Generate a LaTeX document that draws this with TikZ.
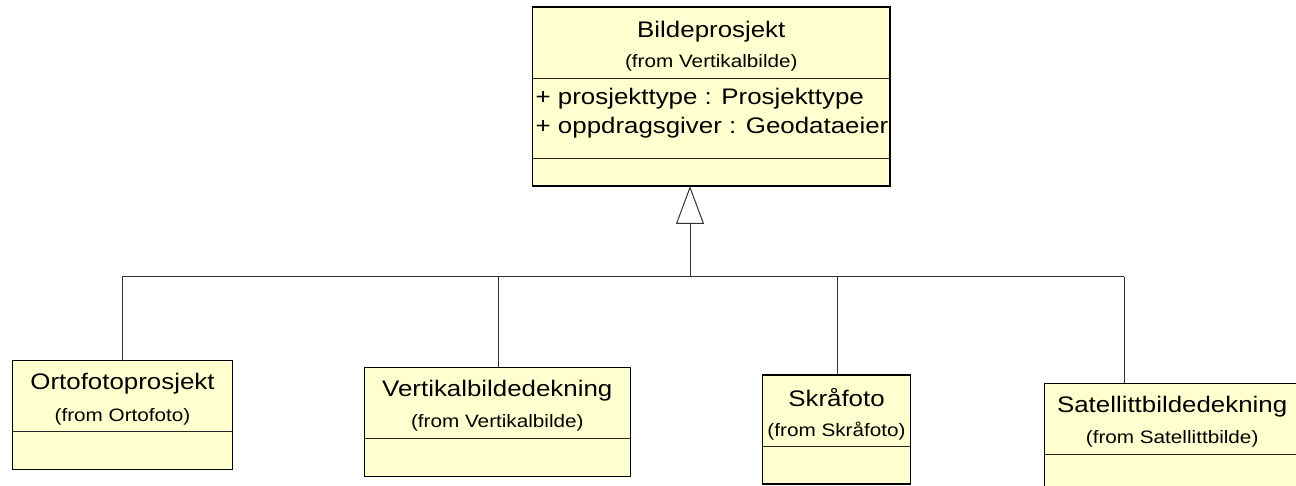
\documentclass[tikz,border=0pt]{standalone}
\usepackage{fontspec}
\setmainfont{Liberation Sans}[FakeStretch=1.15]
\usetikzlibrary{arrows.meta}

\definecolor{classfill}{RGB}{255,255,208}

\tikzset{
  classbox/.style={draw=black, line width=1.2pt, fill=classfill, rectangle,
    inner sep=0pt, outer sep=0pt, anchor=north west},
  classline/.style={draw=black!85, line width=1pt},
  nametext/.style={inner sep=0pt, font=\fontsize{22.5}{27}\selectfont},
  fromtext/.style={inner sep=0pt, font=\fontsize{18}{21}\selectfont},
  attrtext/.style={inner sep=0pt, anchor=west, font=\fontsize{22.5}{27}\selectfont},
  link/.style={draw=black!80, line width=1pt},
  inherit/.style={link, -{Triangle[open, length=38pt, width=28pt]}}
}

\begin{document}
\begin{tikzpicture}[x=1pt, y=-1pt]
    \def \bus {277}
    \useasboundingbox (0,0) rectangle (1296,486);
    % superclass
    \node[classbox, minimum width=357.3pt, minimum height=179pt] (bildeprosjekt) at (532.7,7) {};
    \draw[classline] (532.7,79) -- (890,79);
    \draw[classline] (532.7,159) -- (890,159);
    \node[nametext] (bildeprosjekt-name) at (711.3,32) {Bildeprosjekt};
    \node[fromtext] (bildeprosjekt-from) at (711.3,63) {(from Vertikalbilde)};
    \node[attrtext] (bildeprosjekt-a1) at (535.5,99) {+ prosjekttype : Prosjekttype};
    \node[attrtext] (bildeprosjekt-a2) at (535.5,128) {+ oppdragsgiver : Geodataeier};
    % subclasses
    \foreach \cname/\xl/\xr/\yt/\xd/\ctitle/\pkg in {
        ortofoto/12.7/232.3/360.7/122.3/Ortofotoprosjekt/(from Ortofoto),
        vertikal/364.3/630.3/367.3/498.3/Vertikalbildedekning/(from Vertikalbilde),
        skraafoto/762.3/910.7/375/837.7/Skråfoto/(from Skråfoto),
        satellitt/1044.3/1300/383.3/1124.3/Satellittbildedekning/(from Satellittbilde)}
    {
      \node[classbox, minimum width={(\xr-\xl)*1pt}, minimum height=109pt] (\cname) at (\xl,\yt) {};
      \draw[classline] (\xl,{\yt+71}) -- (\xr,{\yt+71});
      \node[nametext] (\cname-name) at ({(\xl+\xr)/2},{\yt+23}) {\ctitle};
      \node[fromtext] (\cname-from) at ({(\xl+\xr)/2},{\yt+56}) {\pkg};
      \coordinate (j-\cname) at (\xd,\bus);
      \draw[link] (j-\cname) -- (\cname.north -| j-\cname);
    }
    \coordinate (j-top) at (690,\bus);
    \draw[link] (j-ortofoto) -- (j-satellitt);
    \draw[inherit] (j-top) -- (bildeprosjekt.south -| j-top);
\end{tikzpicture}
\end{document}
